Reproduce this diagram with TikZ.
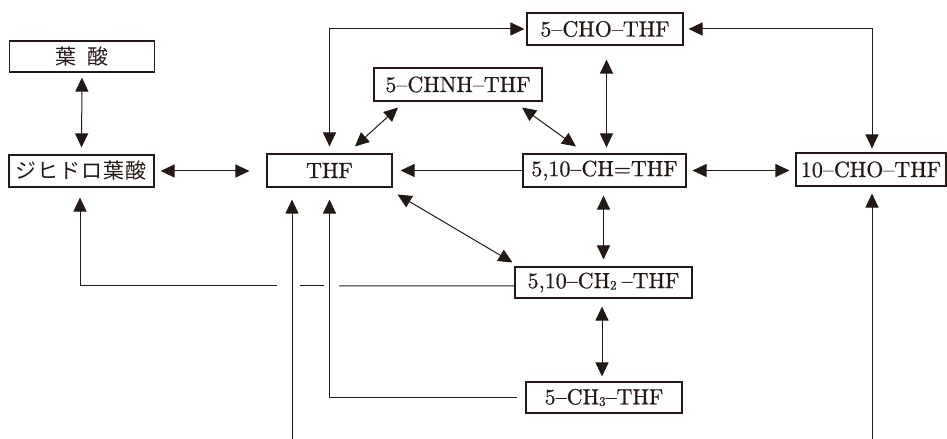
\documentclass[tikz,border=0pt]{standalone}
\usepackage{fontspec}
\newfontfamily\jp{Noto Sans CJK JP}
\newfontfamily\lmten{lmroman10-regular.otf}[FakeBold=0.6]
\usetikzlibrary{arrows.meta}
\definecolor{ink}{RGB}{35,24,21}
\tikzset{
  box/.style={draw=ink, line width=1.1bp, fill=white, inner sep=0pt, text=ink,
    font=\lmten\fontsize{22bp}{24bp}\selectfont},
  conn/.style={draw=ink, line width=1bp},
  ar/.style={conn, -{Triangle[length=14bp,width=13bp]}},
  dar/.style={conn, {Triangle[length=14bp,width=13bp]}-{Triangle[length=14bp,width=13bp]}},
}
\begin{document}
\begin{tikzpicture}[x=1bp,y=-1bp]
\useasboundingbox (0,0) rectangle (947,439);
% nodes
\node[box, minimum width=145bp, minimum height=31bp] (yousan) at (82,56.5) {\jp\fontsize{21bp}{22bp}\selectfont 葉\hspace{12bp}酸};
\node[box, minimum width=145bp, minimum height=32bp] (dhf) at (81.5,171) {\jp\fontsize{21bp}{22bp}\selectfont ジ\hspace{1bp}ヒ\hspace{1bp}ド\hspace{1bp}ロ\hspace{1bp}葉\hspace{1bp}酸};
\node[box, minimum width=125bp, minimum height=33bp] (thf) at (329.5,170.5) {THF};
\node[box, minimum width=156bp, minimum height=32bp] (cho5) at (605,29) {5–CHO–THF};
\node[box, minimum width=168bp, minimum height=33bp] (chnh) at (458,84.5) {5–CHNH–THF};
\node[box, minimum width=163bp, minimum height=33bp] (ch) at (604.5,170.5) {5,10–CH=THF};
\node[box, minimum width=150bp, minimum height=33bp] (cho10) at (871,169.5) {10–CHO–THF};
\node[box, minimum width=177bp, minimum height=31bp] (ch2) at (603.5,282.5) {5,10–CH{\fontsize{13bp}{13bp}\selectfont\raisebox{-1.5bp}{2}}\hspace{5bp}–THF};
\node[box, minimum width=156bp, minimum height=31bp] (ch3) at (604,397.5) {5–CH{\fontsize{13bp}{13bp}\selectfont\raisebox{-1.5bp}{3}}–THF};
% free ends and gap points
\coordinate (in1) at (292,439);
\coordinate (in2) at (872,439);
\coordinate (ga) at (339,286);
\coordinate (gb) at (324,286);
\coordinate (gc) at (300,286);
\coordinate (gd) at (277,286);
% connectors
\draw[dar, shorten <=5bp, shorten >=7bp] (yousan.south) -- (dhf.north);
\draw[dar] ([xshift=6bp]dhf.east) -- ([xshift=-17bp]thf.west |- dhf.east);
\draw[dar] ([xshift=-2bp]cho5.west) -| ([yshift=7bp]thf.north);
\draw[dar] ([xshift=-60bp,yshift=-6bp]chnh.south) -- ([xshift=25.5bp,yshift=7bp]thf.north);
\draw[dar] ([xshift=64bp,yshift=-6bp]chnh.south) -- ([xshift=-28.5bp,yshift=7bp]ch.north);
\draw[dar] ([xshift=1.5bp,yshift=-14bp]cho5.south) -- ([xshift=2bp,yshift=6bp]ch.north);
\draw[ar] (ch.west) -- ([xshift=8bp]thf.east |- ch.west);
\draw[dar] ([xshift=6bp]ch.east) -- ([xshift=-6bp]cho10.west |- ch.east);
\draw[dar] ([xshift=5bp]cho5.east) -| ([xshift=1bp,yshift=4bp]cho10.north);
\draw[dar] ([xshift=-1bp,yshift=-8bp]ch.south) -- ([xshift=-1bp,yshift=7bp]ch.south |- ch2.north);
\draw[dar] ([xshift=5bp,yshift=-7bp]thf.south east) -- ([xshift=-2bp,yshift=4bp]ch2.north west);
\draw[dar] ([xshift=-1.5bp,yshift=-8bp]ch2.south) -- ([xshift=-2bp,yshift=5bp]ch3.north);
\draw[conn] ([yshift=-3.5bp]ch2.west) -- (ga);
\draw[conn] (gb) -- (gc);
\draw[ar] (gd) -| ([xshift=-1.5bp,yshift=-10bp]dhf.south);
\draw[ar, shorten >=12bp] (in1) -- (in1 |- thf.south);
\draw[ar] ([xshift=-8bp]ch3.west) -| ([yshift=-12bp]thf.south);
\draw[ar, shorten >=7bp] (in2) -- (in2 |- cho10.south);
\end{tikzpicture}
\end{document}
